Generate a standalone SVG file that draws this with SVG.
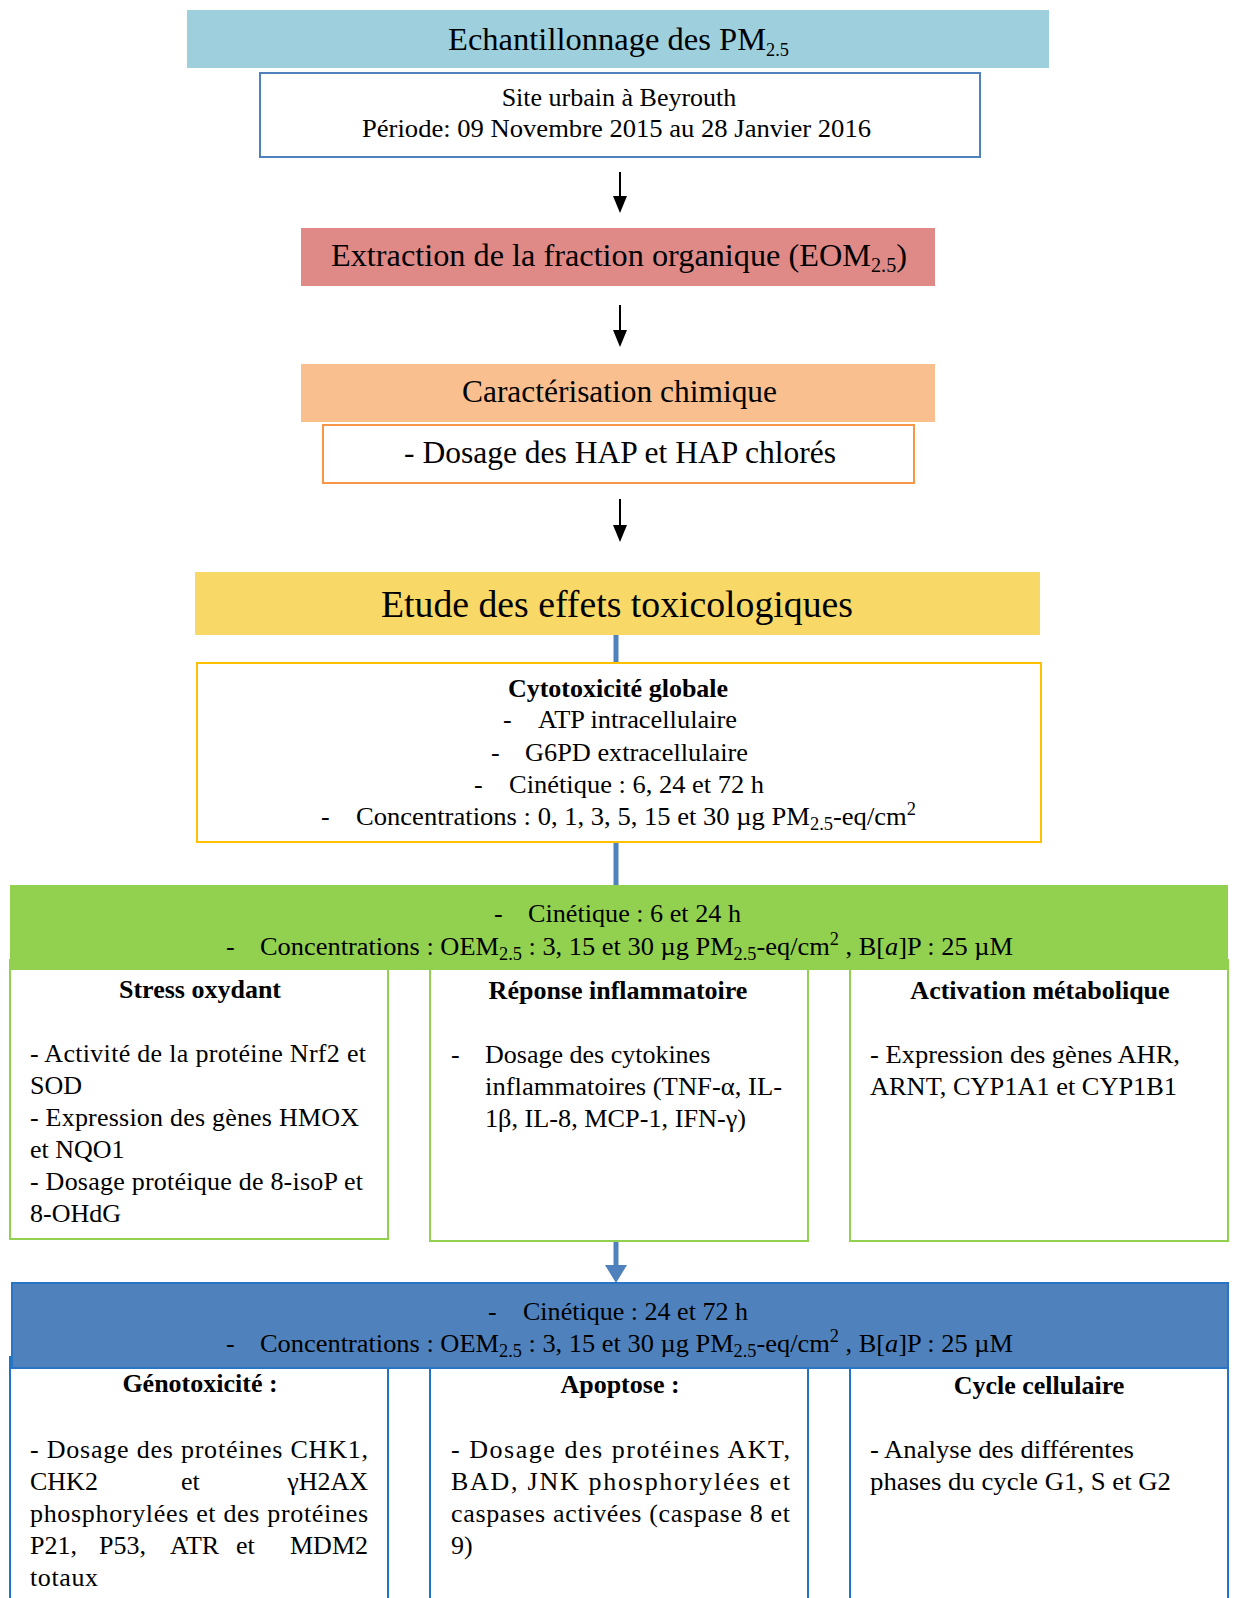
<svg xmlns="http://www.w3.org/2000/svg" width="1233" height="1598" viewBox="0 0 1233 1598">
<defs>
<style>
text{font-family:"Liberation Serif","Times New Roman",serif;fill:#000;}
.h{font-size:32px;}
.b{font-size:26px;}
.t{font-size:26px;font-weight:bold;}
.c{text-anchor:middle;}
.e{text-anchor:end;}
.sub{font-size:18px;}
.wbox{fill:#fff;stroke-width:2;}
</style>
</defs>
<rect width="1233" height="1598" fill="#fff"/>

<g id="connectors">
<line x1="620" y1="172" x2="620" y2="196" stroke="#000" stroke-width="2"/>
<polygon points="613,196 627,196 620,213" fill="#000"/>
<line x1="620" y1="305" x2="620" y2="330" stroke="#000" stroke-width="2"/>
<polygon points="613,330 627,330 620,347" fill="#000"/>
<line x1="620" y1="499" x2="620" y2="525" stroke="#000" stroke-width="2"/>
<polygon points="613,525 627,525 620,542" fill="#000"/>
<line x1="616" y1="635" x2="616" y2="1266" stroke="#4F81BD" stroke-width="5"/>
<polygon points="605,1265 627,1265 616,1283" fill="#4F81BD"/>
</g>

<g id="n-echantillonnage">
<rect x="187" y="10" width="862" height="58" fill="#9DCFDD"/>
<text class="h" x="448" y="50" textLength="341" lengthAdjust="spacingAndGlyphs">Echantillonnage des PM<tspan class="sub" dy="6" font-size="20">2.5</tspan></text>
</g>

<g id="n-site">
<rect class="wbox" x="260" y="73" width="720" height="84" stroke="#4F81BD"/>
<text class="b c" x="619" y="106">Site urbain à Beyrouth</text>
<text class="b" x="362" y="137" textLength="509" lengthAdjust="spacingAndGlyphs">Période: 09 Novembre 2015 au 28 Janvier 2016</text>
</g>

<g id="n-extraction">
<rect x="301" y="228" width="634" height="58" fill="#E08A88"/>
<text class="h" x="331" y="266" textLength="576" lengthAdjust="spacingAndGlyphs">Extraction de la fraction organique (EOM<tspan font-size="20" dy="6">2.5</tspan><tspan dy="-6">)</tspan></text>
</g>

<g id="n-caracterisation">
<rect x="301" y="364" width="634" height="58" fill="#F9BF8F"/>
<text class="h" x="462" y="402" textLength="315" lengthAdjust="spacingAndGlyphs">Caractérisation chimique</text>
</g>

<g id="n-dosage-hap">
<rect class="wbox" x="323" y="425" width="591" height="58" stroke="#F79646"/>
<text class="h" x="404" y="463" textLength="432" lengthAdjust="spacingAndGlyphs">- Dosage des HAP et HAP chlorés</text>
</g>

<g id="n-etude">
<rect x="195" y="572" width="845" height="63" fill="#F8D866"/>
<text x="381" y="617" font-size="38" textLength="472" lengthAdjust="spacingAndGlyphs">Etude des effets toxicologiques</text>
</g>

<g id="n-cytotoxicite">
<rect class="wbox" x="197" y="663" width="844" height="179" stroke="#FFC000"/>
<text class="t c" x="618" y="697">Cytotoxicité globale</text>
<text class="b" x="503" y="728">-</text>
<text class="b" x="538" y="728" textLength="199" lengthAdjust="spacingAndGlyphs">ATP intracellulaire</text>
<text class="b" x="491" y="761">-</text>
<text class="b" x="525" y="761" textLength="223" lengthAdjust="spacingAndGlyphs">G6PD extracellulaire</text>
<text class="b" x="474" y="793">-</text>
<text class="b" x="509" y="793" textLength="255" lengthAdjust="spacingAndGlyphs">Cinétique : 6, 24 et 72 h</text>
<text class="b" x="321" y="825">-</text>
<text class="b" x="356" y="825" textLength="560" lengthAdjust="spacingAndGlyphs">Concentrations : 0, 1, 3, 5, 15 et 30 µg PM<tspan class="sub" dy="5">2.5</tspan><tspan dy="-5">-eq/cm</tspan><tspan class="sub" dy="-10">2</tspan></text>
</g>

<g id="n-stress">
<rect class="wbox" x="10" y="960" width="378" height="279" stroke="#92D050"/>
<text class="t c" x="200" y="998">Stress oxydant</text>
<text class="b" x="30" y="1062" textLength="336" lengthAdjust="spacing">- Activité de la protéine Nrf2 et</text>
<text class="b" x="30" y="1094">SOD</text>
<text class="b" x="30" y="1126" textLength="329" lengthAdjust="spacing">- Expression des gènes HMOX</text>
<text class="b" x="30" y="1158">et NQO1</text>
<text class="b" x="30" y="1190" textLength="333" lengthAdjust="spacing">- Dosage protéique de 8-isoP et</text>
<text class="b" x="30" y="1222">8-OHdG</text>
</g>

<g id="n-inflammation">
<rect class="wbox" x="430" y="960" width="378" height="281" stroke="#92D050"/>
<text class="t c" x="618" y="999">Réponse inflammatoire</text>
<text class="b" x="451" y="1063">-</text>
<text class="b" x="485" y="1063">Dosage des cytokines</text>
<text class="b" x="485" y="1095" textLength="297" lengthAdjust="spacingAndGlyphs">inflammatoires (TNF-α, IL-</text>
<text class="b" x="485" y="1127" textLength="261" lengthAdjust="spacingAndGlyphs">1β, IL-8, MCP-1, IFN-γ)</text>
</g>

<g id="n-metabolique">
<rect class="wbox" x="850" y="960" width="378" height="281" stroke="#92D050"/>
<text class="t c" x="1040" y="999">Activation métabolique</text>
<text class="b" x="870" y="1063" textLength="310" lengthAdjust="spacingAndGlyphs">- Expression des gènes AHR,</text>
<text class="b" x="870" y="1095" textLength="307" lengthAdjust="spacingAndGlyphs">ARNT, CYP1A1 et CYP1B1</text>
</g>

<g id="n-conditions-1">
<rect x="10" y="885" width="1218" height="85" fill="#92D050"/>
<text class="b" x="494" y="922">-</text>
<text class="b" x="528" y="922" textLength="213" lengthAdjust="spacingAndGlyphs">Cinétique : 6 et 24 h</text>
<text class="b" x="226" y="955">-</text>
<text class="b" x="260" y="955" textLength="753" lengthAdjust="spacingAndGlyphs">Concentrations : OEM<tspan class="sub" dy="5">2.5</tspan><tspan dy="-5"> : 3, 15 et 30 µg PM</tspan><tspan class="sub" dy="5">2.5</tspan><tspan dy="-5">-eq/cm</tspan><tspan class="sub" dy="-10">2</tspan><tspan dy="10"> , B[</tspan><tspan font-style="italic">a</tspan>]P : 25 µM</text>
</g>

<g id="n-genotoxicite">
<rect class="wbox" x="10" y="1357" width="378" height="260" stroke="#1F74C6"/>
<text class="t c" x="200" y="1392">Génotoxicité :</text>
<text class="b" x="30" y="1458" textLength="338" lengthAdjust="spacing">- Dosage des protéines CHK1,</text>
<text class="b" x="30" y="1490">CHK2</text>
<text class="b" x="181" y="1490">et</text>
<text class="b e" x="368" y="1490">γH2AX</text>
<text class="b" x="30" y="1522" textLength="338" lengthAdjust="spacing">phosphorylées et des protéines</text>
<text class="b" x="30" y="1554">P21,</text>
<text class="b" x="99" y="1554">P53,</text>
<text class="b" x="170" y="1554">ATR</text>
<text class="b" x="236" y="1554">et</text>
<text class="b e" x="368" y="1554">MDM2</text>
<text class="b" x="30" y="1586" textLength="68" lengthAdjust="spacing">totaux</text>
</g>

<g id="n-apoptose">
<rect class="wbox" x="430" y="1357" width="378" height="260" stroke="#1F74C6"/>
<text class="t c" x="620" y="1393">Apoptose :</text>
<text class="b" x="451" y="1458" textLength="339" lengthAdjust="spacing">- Dosage des protéines AKT,</text>
<text class="b" x="451" y="1490" textLength="339" lengthAdjust="spacing">BAD, JNK phosphorylées et</text>
<text class="b" x="451" y="1522" textLength="339" lengthAdjust="spacing">caspases activées (caspase 8 et</text>
<text class="b" x="451" y="1554">9)</text>
</g>

<g id="n-cycle">
<rect class="wbox" x="850" y="1357" width="378" height="260" stroke="#1F74C6"/>
<text class="t c" x="1039" y="1394">Cycle cellulaire</text>
<text class="b" x="870" y="1458" textLength="264" lengthAdjust="spacingAndGlyphs">- Analyse des différentes</text>
<text class="b" x="870" y="1490" textLength="301" lengthAdjust="spacingAndGlyphs">phases du cycle  G1, S et G2</text>
</g>

<g id="n-conditions-2">
<rect x="12" y="1283" width="1216" height="85" fill="#4F81BD" stroke="#2A74C4" stroke-width="2"/>
<text class="b" x="488" y="1320">-</text>
<text class="b" x="523" y="1320" textLength="225" lengthAdjust="spacingAndGlyphs">Cinétique : 24 et 72 h</text>
<text class="b" x="226" y="1352">-</text>
<text class="b" x="260" y="1352" textLength="753" lengthAdjust="spacingAndGlyphs">Concentrations : OEM<tspan class="sub" dy="5">2.5</tspan><tspan dy="-5"> : 3, 15 et 30 µg PM</tspan><tspan class="sub" dy="5">2.5</tspan><tspan dy="-5">-eq/cm</tspan><tspan class="sub" dy="-10">2</tspan><tspan dy="10"> , B[</tspan><tspan font-style="italic">a</tspan>]P : 25 µM</text>
</g>
</svg>
